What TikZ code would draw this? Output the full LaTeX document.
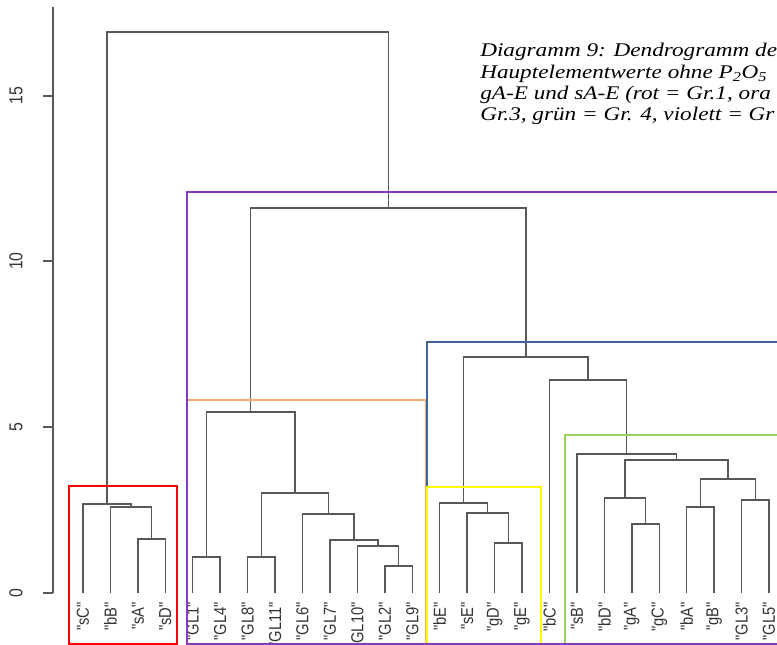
\documentclass[tikz,border=0pt]{standalone}
\usepackage{fontspec}
\setmainfont{Liberation Sans}
\newfontface\capfont[FakeStretch=1.2]{Liberation Serif Italic}
\newfontfamily\labfont[FakeStretch=0.85]{Liberation Sans}
\definecolor{dgray}{RGB}{88,88,88}
\definecolor{cred}{RGB}{255,0,0}
\definecolor{corange}{RGB}{250,170,110}
\definecolor{cyellow}{RGB}{255,255,0}
\definecolor{cgreen}{RGB}{150,210,90}
\definecolor{cblue}{RGB}{65,100,160}
\definecolor{cpurple}{RGB}{130,60,190}
\begin{document}
\begin{tikzpicture}[x=0.75pt,y=-0.75pt,
  dend/.style={draw=dgray,line width=1.1pt},
  clbox/.style={line width=2.2pt},
  leaflab/.style={rotate=90,anchor=east,inner sep=0pt,text=black!80,
    font=\labfont\fontsize{13pt}{15pt}\selectfont},
  axlab/.style={rotate=90,anchor=center,inner sep=0pt,text=black!80,
    font=\labfont\fontsize{14pt}{15pt}\selectfont},
  caplab/.style={anchor=base west,inner sep=0pt,
    font=\capfont\fontsize{14.5pt}{16pt}\selectfont}]
\useasboundingbox (0,0) rectangle (777,645);
\clip (0,0) rectangle (777,645);
% leaves
\foreach \n/\i in {sC/0,bB/1,sA/2,sD/3,GL1/4,GL4/5,GL8/6,GL11/7,GL6/8,GL7/9,GL10/10,GL2/11,GL9/12,bE/13,sE/14,gD/15,gE/16,bC/17,sB/18,bD/19,gA/20,gC/21,bA/22,gB/23,GL3/24,GL5/25}{
  \coordinate (\n) at ({83+27.44*\i},593);
  \node[leaflab] (lab\n) at ({83+27.44*\i},602) {"\n"};
}
% merge points
\coordinate (a1) at (151.6,539);
\coordinate (a2) at (131.0,507);
\coordinate (a3) at (107.0,504);
\coordinate (g1) at (206.5,557);
\coordinate (g2) at (261.35,557);
\coordinate (g3) at (398.55,566);
\coordinate (g4) at (377.98,546);
\coordinate (g5) at (353.99,540);
\coordinate (g6) at (328.24,514);
\coordinate (g7) at (294.8,493);
\coordinate (g8) at (250.65,412);
\coordinate (y1) at (508.3,543);
\coordinate (y2) at (487.75,513);
\coordinate (y3) at (463.7,503);
\coordinate (e1) at (645.5,524);
\coordinate (e2) at (624.95,498);
\coordinate (e3) at (700.4,507);
\coordinate (e4) at (755.3,500);
\coordinate (e5) at (727.85,479);
\coordinate (e6) at (676.4,460);
\coordinate (e7) at (626.65,454);
\coordinate (b1) at (588.1,380);
\coordinate (b2) at (525.9,357);
\coordinate (t1) at (388.3,208);
\coordinate (root) at (247.6,32);
% dendrogram
\draw[dend] (sA) |- (a1) -| (sD);
\draw[dend] (bB) |- (a2) -| (a1);
\draw[dend] (sC) |- (a3) -| (a2);
\draw[dend] (GL1) |- (g1) -| (GL4);
\draw[dend] (GL8) |- (g2) -| (GL11);
\draw[dend] (GL2) |- (g3) -| (GL9);
\draw[dend] (GL10) |- (g4) -| (g3);
\draw[dend] (GL7) |- (g5) -| (g4);
\draw[dend] (GL6) |- (g6) -| (g5);
\draw[dend] (g2) |- (g7) -| (g6);
\draw[dend] (g1) |- (g8) -| (g7);
\draw[dend] (gD) |- (y1) -| (gE);
\draw[dend] (sE) |- (y2) -| (y1);
\draw[dend] (bE) |- (y3) -| (y2);
\draw[dend] (gA) |- (e1) -| (gC);
\draw[dend] (bD) |- (e2) -| (e1);
\draw[dend] (bA) |- (e3) -| (gB);
\draw[dend] (GL3) |- (e4) -| (GL5);
\draw[dend] (e3) |- (e5) -| (e4);
\draw[dend] (e2) |- (e6) -| (e5);
\draw[dend] (sB) |- (e7) -| (e6);
\draw[dend] (bC) |- (b1) -| (e7);
\draw[dend] (y3) |- (b2) -| (b1);
\draw[dend] (g8) |- (t1) -| (b2);
\draw[dend] (a3) |- (root) -| (t1);
% axis
\draw[dend] (53,593) -- (53,7);
\foreach \yy/\t in {593/0,427/5,261/10,96/15}{
  \draw[dend] (43,\yy) -- (53,\yy);
  \node[axlab] (ax\t) at (16,\yy) {\t};
}
% cluster boxes
\draw[clbox,corange] (187,400) rectangle (426,644);
\draw[clbox,cblue] (427,342) rectangle (790,644);
\draw[clbox,cgreen] (565,435) rectangle (790,644);
\draw[clbox,cyellow] (427,487) rectangle (541,644);
\draw[clbox,cred] (69,486) rectangle (177,644);
\draw[clbox,cpurple] (187,192) rectangle (790,644);
% caption
\node[caplab] (cap1) at (480,57) {Diagramm 9: Dendrogramm de};
\node[caplab] (cap2) at (480,79) {Hauptelementwerte ohne P\textsubscript{2}O\textsubscript{5}};
\node[caplab] (cap3) at (480,100) {gA-E und sA-E (rot = Gr.1, ora};
\node[caplab] (cap4) at (480,121) {Gr.3, grün = Gr. 4, violett = Gr};
\end{tikzpicture}
\end{document}
